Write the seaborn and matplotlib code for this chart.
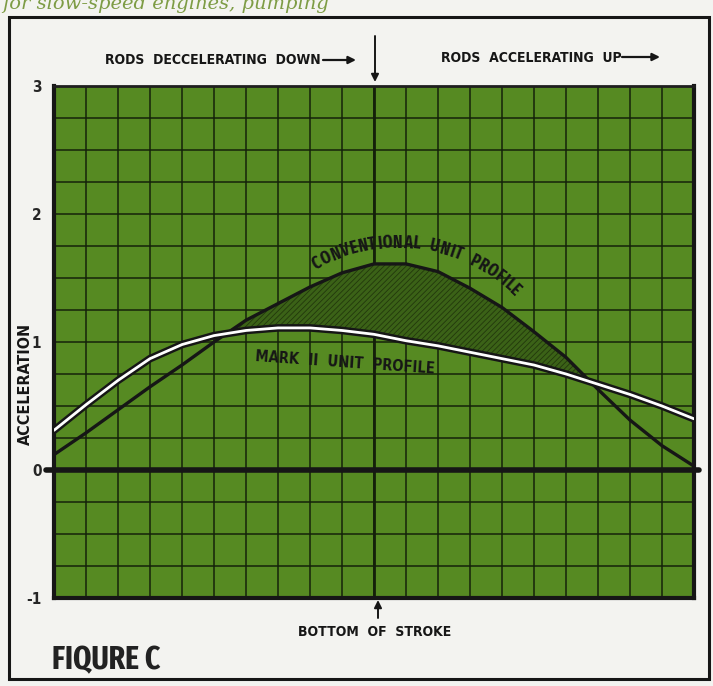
import numpy as np
import pandas as pd
import matplotlib
matplotlib.use("Agg")
import matplotlib.pyplot as plt
import seaborn as sns
from matplotlib.patches import FancyArrowPatch, Rectangle

# ── Data (x = grid columns across the stroke) ───────────────────────────────
stroke_pos = list(range(21))
conventional = [0.12, 0.29, 0.47, 0.65, 0.82, 1.00, 1.17, 1.30, 1.43, 1.54, 1.61,
                1.61, 1.55, 1.42, 1.27, 1.08, 0.88, 0.63, 0.39, 0.19, 0.03]
mark_ii = [0.31, 0.51, 0.70, 0.87, 0.98, 1.05, 1.09, 1.11, 1.11, 1.09, 1.06,
           1.01, 0.97, 0.92, 0.87, 0.82, 0.75, 0.67, 0.59, 0.50, 0.40]
y_ticks = [-1, 0, 1, 2, 3]

# ── Style ────────────────────────────────────────────────────────────────────
W, H = 713, 686
PAPER = "#f3f3f0"
GREEN = "#568a22"
INK = "#161616"
GRID = "#14200a"
NARROW = ["Fira Sans Extra Condensed", "DejaVu Sans"]

sns.set_style("white")
plt.rcParams["font.family"] = ["DejaVu Sans"]
plt.rcParams["font.stretch"] = "condensed"
plt.rcParams["font.weight"] = "bold"
plt.rcParams["hatch.linewidth"] = 0.6
plt.rcParams["hatch.color"] = "#22380c"

fig = plt.figure(figsize=(W / 100, H / 100), dpi=100, facecolor=PAPER)


def px(x, y):
    """pixel position (top-left origin) -> figure fraction"""
    return x / W, 1 - y / H


left, top = px(54, 86)
right, bottom = px(694, 598)
ax = fig.add_axes([left, bottom, right - left, top - bottom])
ax.set_facecolor(GREEN)

df = pd.DataFrame({"pos": stroke_pos, "conv": conventional, "mk2": mark_ii})

# ── Grid / frame ────────────────────────────────────────────────────────────
ax.set_xlim(0, 20)
ax.set_ylim(-1, 3)
ax.set_xticks(stroke_pos)
ax.set_yticks(y_ticks)
ax.set_yticks(np.arange(-1, 3.01, 0.25), minor=True)
ax.grid(which="both", color=GRID, linewidth=1.2, alpha=0.9)
ax.set_axisbelow(True)
ax.axvline(10, color=GRID, linewidth=2.0, zorder=1)

# shaded gap where the conventional profile rides above Mark II
ax.fill_between(df["pos"], df["mk2"], df["conv"], where=df["conv"] > df["mk2"],
                interpolate=True, facecolor="#3b6217", edgecolor="#22380c",
                hatch="//////", linewidth=0, zorder=2)

ax.axhline(0, xmin=-0.012, xmax=1.008, color=INK, linewidth=4, clip_on=False, zorder=3)

# ── Curves ──────────────────────────────────────────────────────────────────
sns.lineplot(data=df, x="pos", y="conv", ax=ax, color=INK, linewidth=2.4, zorder=4)
sns.lineplot(data=df, x="pos", y="mk2", ax=ax, color=INK, linewidth=5.5, zorder=5)
sns.lineplot(data=df, x="pos", y="mk2", ax=ax, color="white", linewidth=2.0, zorder=6)

ax.set_xlabel("")
ax.set_ylabel("")
for side in ["left", "bottom", "right"]:
    ax.spines[side].set_linewidth(3)
    ax.spines[side].set_color(INK)
ax.spines["top"].set_linewidth(2)
ax.spines["top"].set_color("#1e1e1e")
ax.tick_params(axis="x", length=0, labelbottom=False)
ax.tick_params(axis="y", which="major", length=7, width=2, color=INK, pad=2,
               labelsize=11)
ax.tick_params(axis="y", which="minor", length=0)
ax.set_yticklabels([str(t) for t in y_ticks], fontweight="bold")

# ── Labels ──────────────────────────────────────────────────────────────────
fig.text(*px(25, 384), "ACCELERATION", rotation=90, ha="center", va="center",
         fontsize=11.5, fontweight="bold", color=INK)

ax.text(9.1, 0.84, "MARK  II  UNIT  PROFILE", rotation=-4, ha="center", va="center",
        fontsize=10.5, fontweight="bold", color=INK, zorder=7)

# curved label over the conventional profile: letters on a circular arc,
# spaced by rough glyph widths so narrow letters don't leave gaps
label = "CONVENTIONAL UNIT PROFILE"
glyph_w = {"I": 0.5, " ": 0.9, "E": 0.85, "T": 0.9, "L": 0.8, "F": 0.8,
           "O": 1.05, "N": 1.05, "U": 1.05, "P": 0.95}
w = np.array([glyph_w.get(c, 1.0) for c in label])
steps = np.concatenate([[0], np.cumsum((w[:-1] + w[1:]) / 2)])
angles = -28.5 + 72.5 * steps / steps[-1]
cx, cy, rad = 397.6, 411.5, 169.0
for ch, a in zip(label, angles):
    t = np.radians(a)
    x = cx + rad * np.sin(t)
    y = cy - rad * np.cos(t)
    fig.text(*px(x, y), ch, rotation=-a, rotation_mode="anchor", ha="center",
             va="center", fontsize=12.5, fontweight="bold", color=INK,
             family=NARROW)

fig.text(*px(213, 60), "RODS  DECCELERATING  DOWN", ha="center", va="center",
         fontsize=10, fontweight="bold", color=INK)
fig.text(*px(531, 58), "RODS  ACCELERATING  UP", ha="center", va="center",
         fontsize=10, fontweight="bold", color=INK)
fig.text(*px(375, 632), "BOTTOM  OF  STROKE", ha="center", va="center",
         fontsize=10, fontweight="bold", color=INK)
fig.text(*px(52, 660), "FIQURE C", ha="left", va="center",
         fontsize=23, fontweight="bold", color="#222222", family=NARROW)
fig.text(*px(2, 4), "for slow-speed engines, pumping", ha="left", va="center",
         fontsize=14, style="italic", fontweight="normal", color="#7d9c45",
         family=["DejaVu Serif"], fontstretch="normal")


def arrow(p0, p1, lw=1.6, scale=11):
    fig.add_artist(FancyArrowPatch(px(*p0), px(*p1), transform=fig.transFigure,
                                   arrowstyle="-|>", mutation_scale=scale,
                                   linewidth=lw, color=INK, shrinkA=0, shrinkB=0))


arrow((323, 60), (356, 60))
arrow((622, 57), (660, 57))
arrow((375, 36), (375, 82), lw=1.4)
arrow((378, 618), (378, 600), lw=1.4)

# outer frame of the figure box
fig.add_artist(Rectangle(px(9, 679), 700 / W, 662 / H, transform=fig.transFigure,
                         fill=False, edgecolor=INK, linewidth=2.2))

fig.savefig("out.png", dpi=100, facecolor=PAPER)
